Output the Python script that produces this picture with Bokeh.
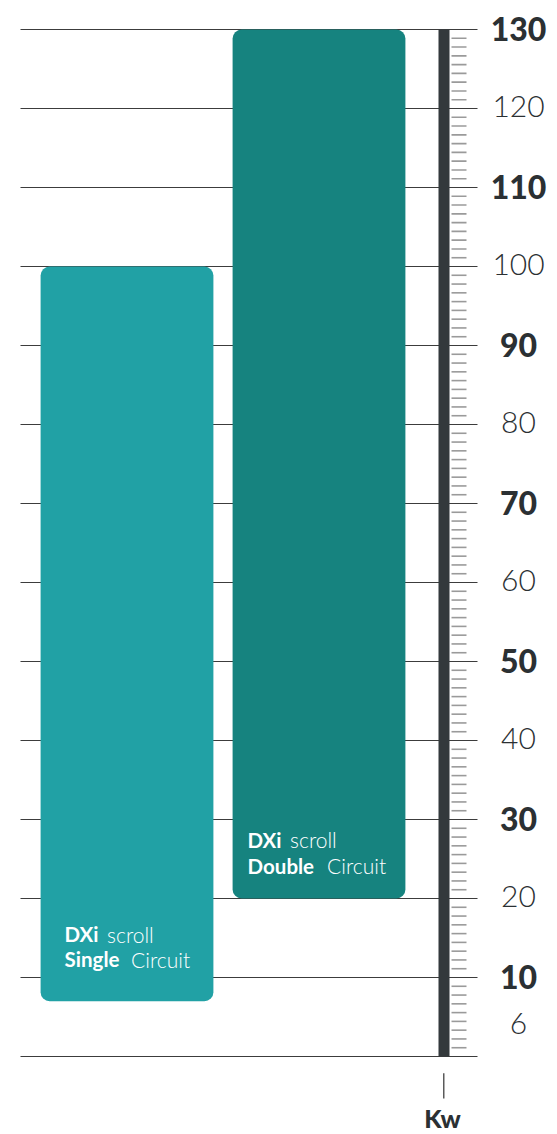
from bokeh.plotting import figure
from bokeh.models import Range1d, ColumnDataSource
from bokeh.core.properties import value
from bokeh.embed import file_html
from bokeh.resources import INLINE

# ---------------- data ----------------
series_bold = ["Single", "Double"]
series_light = ["Circuit", "Circuit"]
series_head_bold = ["DXi", "DXi"]
series_head_light = ["scroll", "scroll"]
bar_low = [7, 20]
bar_high = [100, 130]
bar_colors = ["#21a1a5", "#16837f"]

bold_ticks = [10, 30, 50, 70, 90, 110, 130]
bold_labels = ["10", "30", "50", "70", "90", "110", "130"]
light_ticks = [20, 40, 60, 80, 100, 120]
light_labels = ["20", "40", "60", "80", "100", "120"]
min_tick = [6]
min_label = ["6"]
unit_label = "Kw"
axis_min, axis_max = 0, 130

# ---------------- layout ----------------
W, H = 557, 1134
PXU = 7.9            # pixels per kW
ZERO_PX = 1056       # screen y of value 0
SLOT = 192.0         # pixels between bar centres
BAR0_PX = 126.5      # screen x of first bar centre

y_start = -(H - ZERO_PX) / PXU
y_end = y_start + H / PXU
x_start = -BAR0_PX / SLOT
x_end = x_start + W / SLOT

def X(px):
    return x_start + px / SLOT

def DY(px):
    return px / PXU

BOLD = value("Lato Black, Lato")
REG_B = value("Lato")
LIGHT = value("Lato Light, Lato")

p = figure(width=W, height=H, x_range=Range1d(x_start, x_end), y_range=Range1d(y_start, y_end),
           output_backend="svg", toolbar_location=None, min_border=0,
           x_axis_type=None, y_axis_type=None, outline_line_color=None)
p.background_fill_color = "white"
p.border_fill_color = "white"

# gridlines
grid_vals = [axis_min] + sorted(bold_ticks + light_ticks)
p.segment(x0=[X(20)] * len(grid_vals), x1=[X(477)] * len(grid_vals), y0=grid_vals, y1=grid_vals,
          line_color="#3c3c3c", line_width=1.1)

# bars
xs = list(range(len(bar_low)))
BW = 0.9
src = ColumnDataSource(dict(x=xs, low=bar_low, high=bar_high, color=bar_colors))
p.vbar(x="x", width=BW, bottom="low", top="high", fill_color="color", line_color=None,
       border_radius=9, source=src)

# bar texts
FS = "20.5px"
FSL = "21px"
pad1 = [67, 59]
pad2 = [42, 33]
dx = [24, 15]
second_dx_head = [42.5, 42.5]
second_dx_line = [66.5, 79.5]
for i in xs:
    left = i - BW / 2
    yl1 = bar_low[i] + DY(pad1[i])
    yl2 = bar_low[i] + DY(pad2[i])
    p.text(x=[left], y=[yl1], text=[series_head_bold[i]], x_offset=dx[i], text_color="white",
           text_font=REG_B, text_font_style="bold", text_font_size=FS,
           text_baseline="alphabetic", text_align="left")
    p.text(x=[left], y=[yl1], text=[series_head_light[i]], x_offset=dx[i] + second_dx_head[i], text_color="white",
           text_font=LIGHT, text_font_size=FSL,
           text_baseline="alphabetic", text_align="left")
    p.text(x=[left], y=[yl2], text=[series_bold[i]], x_offset=dx[i], text_color="white",
           text_font=REG_B, text_font_style="bold", text_font_size=FS,
           text_baseline="alphabetic", text_align="left")
    p.text(x=[left], y=[yl2], text=[series_light[i]], x_offset=dx[i] + second_dx_line[i], text_color="white",
           text_font=LIGHT, text_font_size=FSL,
           text_baseline="alphabetic", text_align="left")

# axis bar
p.quad(left=[X(438)], right=[X(449)], bottom=[axis_min], top=[axis_max], fill_color="#33393c", line_color=None)

# minor ticks
minor = []
for m in range(axis_min, axis_max, 10):
    for k in range(1, 9):
        minor.append(m + k * 10 / 9)
p.segment(x0=[X(451)] * len(minor), x1=[X(466)] * len(minor), y0=minor, y1=minor,
          line_color="#9a9a9a", line_width=1.6)

# tick labels
LX = X(518)
p.text(x=[LX] * len(bold_ticks), y=bold_ticks, text=bold_labels, text_align="center", text_baseline="middle",
       text_font=BOLD, text_font_style="bold", text_font_size="32px", text_color="#2b3033", y_offset=-1)
p.text(x=[LX] * len(light_ticks), y=light_ticks, text=light_labels, text_align="center", text_baseline="middle",
       text_font=LIGHT, text_font_size="30px", text_color="#2b3033", y_offset=-2)
p.text(x=[LX], y=min_tick, text=min_label, text_align="center", text_baseline="middle",
       text_font=LIGHT, text_font_size="30px", text_color="#2b3033", y_offset=14)

# unit label
p.segment(x0=[X(443.3)], x1=[X(443.3)], y0=[axis_min - DY(16.7)], y1=[axis_min - DY(42)],
          line_color="#333333", line_width=1.2)
p.text(x=[X(442)], y=[axis_min - DY(61)], text=[unit_label], text_align="center", text_baseline="middle",
       text_font=BOLD, text_font_style="bold", text_font_size="25px", text_color="#2b3033")

open("out.html", "w").write(file_html(p, INLINE))
